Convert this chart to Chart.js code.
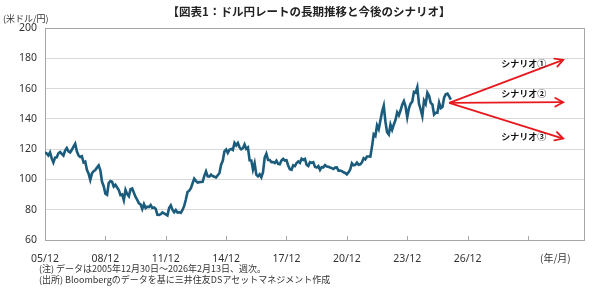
<!DOCTYPE html>
<html>
<head>
<meta charset="utf-8">
<script src="https://cdn.jsdelivr.net/npm/chart.js@4/dist/chart.umd.min.js"></script>
<style>
	body{margin:0;background:#fff;font-family:"Noto Sans CJK JP","Noto Sans",sans-serif}
	#wrap{position:relative;width:600px;height:290px}
	#c{position:absolute;left:0;top:0}
	.t{position:absolute;white-space:nowrap;color:#222}
	#title{left:0;width:618px;top:3px;text-align:center;font-size:11.5px;font-weight:bold}
	#unit{left:3px;top:12px;font-size:9px;color:#333}
	#ym{left:540px;top:250px;font-size:10px;color:#333}
	#n1{left:39px;top:262px;font-size:9px;color:#333}
	#n2{left:39px;top:273px;font-size:9px;color:#333}
</style>
</head>
<body>
<div id="wrap">
	<canvas id="c" width="600" height="290"></canvas>
	<div class="t" id="title">【図表1：ドル円レートの長期推移と今後のシナリオ】</div>
	<div class="t" id="unit">(米ドル/円)</div>
	<div class="t" id="ym">(年/月)</div>
	<div class="t" id="n1">(注) データは2005年12月30日～2026年2月13日、週次。</div>
	<div class="t" id="n2">(出所) Bloombergのデータを基に三井住友DSアセットマネジメント作成</div>
</div>
<script>
"use strict"
// USD/JPY, one value per month, Dec 2005 .. Feb 2026 (index 0 = 05/12)
const usdjpy = [
	117.9,
	117.2, 115.8, 117.8, 113.9, 111.2, 114.4, 114.6, 117.3, 118.1, 116.9, 115.8, 119.0,
	120.7, 118.5, 117.8, 119.6, 121.7, 123.6, 118.6, 115.8, 114.8, 115.3, 111.2, 111.7,
	106.4, 103.8, 99.7, 104.0, 105.5, 106.2, 107.9, 109.3, 106.0, 98.5, 95.5, 90.6,
	89.9, 97.6, 98.9, 98.5, 95.3, 96.4, 94.7, 93.0, 89.7, 90.1, 86.3, 93.0,
	90.3, 88.9, 93.5, 94.0, 91.2, 88.4, 86.5, 84.2, 83.5, 80.4, 83.7, 81.1,
	82.0, 81.8, 83.1, 81.2, 81.5, 80.6, 76.7, 76.6, 77.0, 78.2, 77.6, 76.9,
	76.2, 81.2, 82.9, 80.0, 78.3, 79.8, 78.1, 78.4, 77.9, 79.8, 82.5, 86.7,
	91.7, 92.6, 94.2, 97.5, 100.5, 99.1, 97.9, 98.2, 98.3, 98.4, 102.4, 105.3,
	102.0, 101.8, 103.2, 102.2, 101.8, 101.3, 102.8, 104.1, 109.7, 112.3, 118.6, 119.8,
	117.5, 119.6, 120.1, 119.4, 124.1, 122.5, 124.1, 121.2, 119.9, 120.6, 123.1, 120.2,
	121.1, 112.7, 112.6, 106.5, 110.7, 103.2, 102.1, 103.4, 101.4, 104.8, 114.4, 117.0,
	112.8, 112.8, 111.4, 111.5, 110.8, 112.4, 110.3, 110.0, 112.5, 113.6, 112.5, 112.7,
	109.2, 106.7, 106.3, 109.3, 108.8, 110.8, 111.9, 111.0, 113.7, 112.9, 113.5, 109.7,
	108.9, 111.4, 110.9, 111.4, 108.3, 107.9, 108.8, 106.3, 108.1, 108.0, 109.5, 108.6,
	108.4, 107.9, 107.5, 106.9, 107.8, 107.9, 105.8, 105.9, 105.5, 104.7, 104.3, 103.3,
	104.7, 106.6, 110.7, 109.3, 109.6, 111.1, 109.7, 110.0, 111.3, 114.0, 113.2, 115.1,
	115.1, 115.0, 121.7, 129.8, 128.7, 135.7, 133.2, 138.9, 144.7, 148.7, 138.1, 131.1,
	129.6, 136.2, 132.8, 136.3, 139.3, 144.3, 142.3, 145.5, 149.4, 151.7, 148.2, 141.0,
	146.9, 150.0, 151.4, 157.8, 157.3, 160.9, 150.0, 146.2, 141.8, 152.0, 149.8, 157.2,
	155.2, 150.6, 149.5, 142.9, 144.0, 144.0, 150.7, 147.1, 147.9, 154.1, 156.2, 156.7,
	154.8, 152.7
]
const xTickLabels = ['05/12','08/12','11/12','14/12','17/12','20/12','23/12','26/12','','']
const monthsPerTick = 36
const yTicks = [60, 80, 100, 120, 140, 160, 180, 200]

// scenarios: start point and end values (month index, yen)
const scenarioNames = ['シナリオ①', 'シナリオ②', 'シナリオ③']
const scenarioFrom = {month: 241, value: 150.5}
const scenarioToMonth = 309
const scenarioTo = [179, 151, 127]
const scenarioLabelMonth = 272

const lineColor = '#1b5b7b'
const arrowColor = '#e8191e'

let series = usdjpy.map((v, i) => ({x: i, y: v}))
let scenarioSets = scenarioTo.map((v, i) => ({
	label: scenarioNames[i],
	data: [{x: scenarioFrom.month, y: scenarioFrom.value}, {x: scenarioToMonth, y: v}],
	borderColor: arrowColor,
	borderWidth: 1.8,
	pointRadius: 0,
	tension: 0
}))

let frame = {
	id: 'frame',
	beforeDatasetsDraw(chart) {
		let a = chart.chartArea, c = chart.ctx
		c.save()
		c.strokeStyle = '#a6a6a6'
		c.lineWidth = 1
		c.strokeRect(a.left + 0.5, a.top + 0.5, a.right - a.left - 1, a.bottom - a.top)
		// small ticks pointing up from the x axis
		let xs = chart.scales.x
		xTickLabels.forEach((t, i) => {
			let px = Math.round(xs.getPixelForValue(i * monthsPerTick)) + 0.5
			if (px > a.right - 2) return
			c.beginPath()
			c.moveTo(px, a.bottom)
			c.lineTo(px, a.bottom - 4)
			c.stroke()
		})
		c.restore()
	}
}

let arrows = {
	id: 'arrows',
	afterDatasetsDraw(chart) {
		let xs = chart.scales.x, ys = chart.scales.y, c = chart.ctx
		let x0 = xs.getPixelForValue(scenarioFrom.month)
		let y0 = ys.getPixelForValue(scenarioFrom.value)
		let labelOffset = [-20, -9, 17]
		c.save()
		c.strokeStyle = arrowColor
		c.lineWidth = 1.8
		c.lineCap = 'round'
		scenarioTo.forEach((v, i) => {
			let x1 = xs.getPixelForValue(scenarioToMonth)
			let y1 = ys.getPixelForValue(v)
			let ang = Math.atan2(y1 - y0, x1 - x0)
			let len = 9, spread = 0.5
			c.beginPath()
			c.moveTo(x1 - len * Math.cos(ang - spread), y1 - len * Math.sin(ang - spread))
			c.lineTo(x1, y1)
			c.lineTo(x1 - len * Math.cos(ang + spread), y1 - len * Math.sin(ang + spread))
			c.stroke()
			// label sits next to its arrow
			let lx = xs.getPixelForValue(scenarioLabelMonth)
			let t = (lx - x0) / (x1 - x0)
			let ly = y0 + (y1 - y0) * t + labelOffset[i]
			c.fillStyle = '#111'
			c.font = 'bold 9px "Noto Sans CJK JP"'
			c.textBaseline = 'middle'
			c.fillText(scenarioNames[i], lx, ly)
		})
		c.restore()
	}
}

new Chart(document.getElementById('c'), {
	type: 'line',
	data: {
		datasets: [{
			label: 'ドル円',
			data: series,
			borderColor: lineColor,
			borderWidth: 2.6,
			pointRadius: 0,
			tension: 0
		}, ...scenarioSets]
	},
	options: {
		responsive: false,
		animation: false,
		parsing: false,
		layout: {padding: {left: 0, right: 15, top: 28, bottom: 0}},
		plugins: {legend: {display: false}, tooltip: {enabled: false}},
		scales: {
			x: {
				type: 'linear',
				min: 0,
				max: 322,
				afterBuildTicks: s => { s.ticks = xTickLabels.map((t, i) => ({value: i * monthsPerTick})) },
				afterFit: s => { s.height = 50 },
				grid: {display: false},
				border: {display: false},
				ticks: {
					autoSkip: false,
					maxRotation: 0,
					padding: 5,
					color: '#333',
					font: {family: '"Noto Sans", sans-serif', size: 10.5},
					callback: (v, i) => xTickLabels[i]
				}
			},
			y: {
				min: 60,
				max: 200,
				afterBuildTicks: s => { s.ticks = yTicks.map(v => ({value: v})) },
				afterFit: s => { s.width = 45 },
				grid: {color: '#d9d9d9', lineWidth: 1, drawTicks: false},
				border: {display: false},
				ticks: {
					padding: 8,
					color: '#333',
					font: {family: '"Noto Sans", sans-serif', size: 10.5}
				}
			}
		}
	},
	plugins: [frame, arrows]
})
</script>
</body>
</html>
